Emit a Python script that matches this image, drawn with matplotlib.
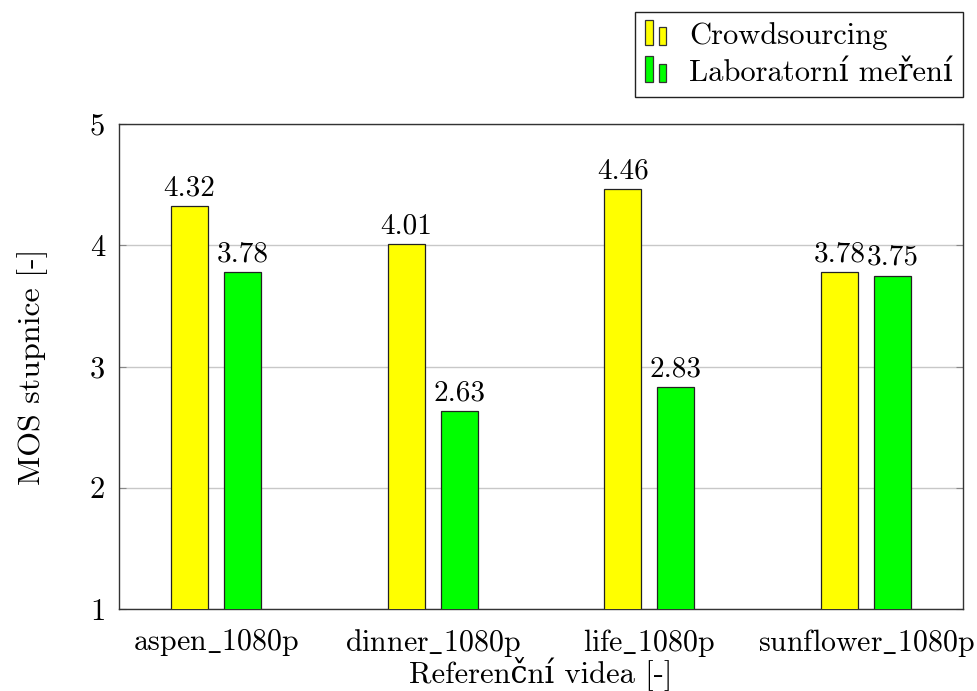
import numpy as np
import matplotlib.pyplot as plt
from matplotlib.patches import Rectangle
from matplotlib.legend_handler import HandlerBase

plt.rcParams['font.family'] = ['cmr10', 'DejaVu Serif']
plt.rcParams['mathtext.fontset'] = 'cm'
plt.rcParams['axes.formatter.use_mathtext'] = True

# underscore via mathtext, cmr10 maps "_" to a dot accent
videos = [r'aspen$\_$1080p', r'dinner$\_$1080p', r'life$\_$1080p',
          r'sunflower$\_$1080p']
crowd = [4.32, 4.01, 4.46, 3.78]
lab = [3.78, 2.63, 2.83, 3.75]
yticks = [1, 2, 3, 4, 5]


class TwoBars(HandlerBase):
    def create_artists(self, legend, orig_handle, xdescent, ydescent,
                       width, height, fontsize, trans):
        fc = orig_handle.patches[0].get_facecolor()
        x0, y0 = -xdescent, -ydescent - 1
        r1 = Rectangle((x0, y0), width * 0.36, height * 1.2, facecolor=fc,
                       edgecolor='#333333', lw=0.9, transform=trans)
        r2 = Rectangle((x0 + width * 0.68, y0), width * 0.32, height * 0.85,
                       facecolor=fc, edgecolor='#333333', lw=0.9, transform=trans)
        return [r1, r2]


fig = plt.figure(figsize=(9.78, 6.91), dpi=100)
ax = fig.add_axes([119 / 978, 1 - 609 / 691, 844 / 978, 485 / 691])

x = np.arange(len(videos))
w = 0.17
off = 0.122
b1 = ax.bar(x - off, crowd, w, color='#ffff00', edgecolor='#222222', lw=0.9,
            label='Crowdsourcing', zorder=3)
b2 = ax.bar(x + off, lab, w, color='#00ff00', edgecolor='#222222', lw=0.9,
            label='Laboratorní meření', zorder=3)

for bars, vals in [(b1, crowd), (b2, lab)]:
    for r, v in zip(bars, vals):
        ax.text(r.get_x() + r.get_width() / 2, v + 0.04, '%.2f' % v,
                ha='center', va='bottom', fontsize=21)

ax.set_ylim(1, 5)
ax.set_xlim(-0.448, 3.448)
ax.set_yticks(yticks)
ax.set_yticklabels([str(t) for t in yticks])
ax.set_xticks(x)
ax.set_xticklabels(videos)
ax.tick_params(axis='x', length=0, labelsize=21.5, pad=13)
ax.tick_params(axis='y', direction='in', length=5, right=True, labelsize=22,
               pad=10, color='#888888')
ax.yaxis.grid(True, color='#c8c8c8', lw=1, zorder=0)
for s in ax.spines.values():
    s.set_color('#333333')
    s.set_linewidth(1)

ax.set_ylabel('MOS stupnice [-]', fontsize=23, labelpad=30)
ax.set_xlabel('Referenční videa [-]', fontsize=22, labelpad=-2)

fig.legend(handles=[b1, b2], loc='upper right',
           bbox_to_anchor=(963 / 978, 1 - 12 / 691), borderaxespad=0,
           fontsize=22, handler_map={b1: TwoBars(), b2: TwoBars()},
           fancybox=False, framealpha=1, edgecolor='#222222',
           handlelength=0.7, handletextpad=0.75, borderpad=0.33,
           labelspacing=0.3)
fig.legends[0].get_frame().set_linewidth(1)

fig.savefig('out.png', dpi=100)
